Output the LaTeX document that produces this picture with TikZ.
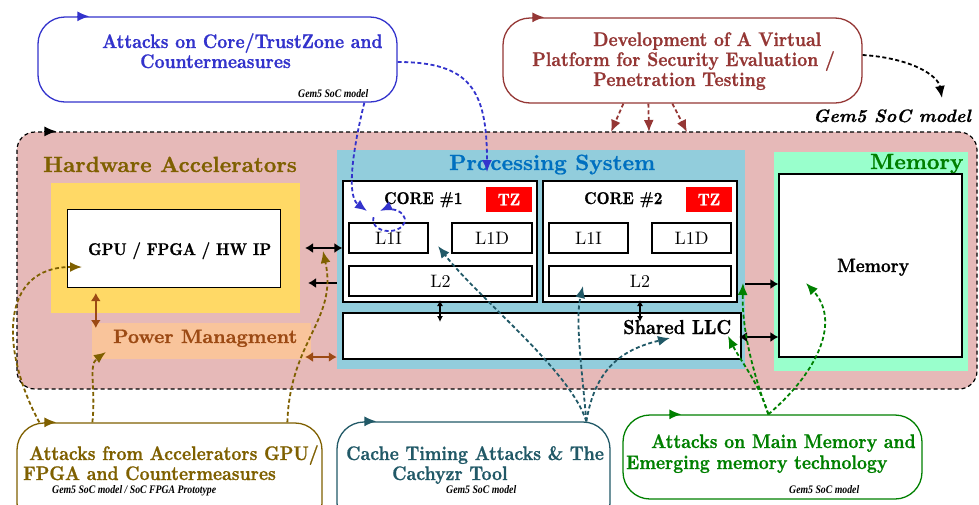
\documentclass[tikz,border=0pt]{standalone}
\usepackage{fontspec}
\usetikzlibrary{arrows.meta,fit}

% label fonts
\newfontfamily\tagfamily{Liberation Serif}
\newfontfamily\hv{lmroman10-bold}[Extension=.otf, FakeStretch=0.88, FakeBold=0.8]
\newfontfamily\hvwide{lmroman10-bold}[Extension=.otf, FakeBold=0.8]
\newfontfamily\hvit{lmroman10-bolditalic}[Extension=.otf, FakeBold=0.6]
\newfontfamily\lmreg{lmroman10-regular}[Extension=.otf]

\definecolor{cBlue}{HTML}{3333CC}
\definecolor{cRed}{HTML}{953735}
\definecolor{cOlive}{HTML}{7F6000}
\definecolor{cTeal}{HTML}{215967}
\definecolor{cGreen}{HTML}{008000}
\definecolor{cPink}{HTML}{E6B9B8}
\definecolor{cYellow}{HTML}{FFD966}
\definecolor{cSky}{HTML}{92CDDC}
\definecolor{cPeach}{HTML}{F9C49B}
\definecolor{cMint}{HTML}{99FFCC}
\definecolor{cRust}{HTML}{9C4A14}
\definecolor{cPSBlue}{HTML}{0070C0}

\begin{document}
\begin{tikzpicture}[x=1pt,y=1pt,
  region/.style={inner sep=0pt, draw=none},
  cell/.style={draw=black, line width=1.1pt, fill=white, inner sep=0pt},
  attack/.style={draw, line width=1.3pt, fill=white, rounded corners=27pt, inner sep=0pt},
  head/.style={font=\fontsize{19.7}{20}\hv, anchor=base west, inner sep=0pt},
  tag/.style={font=\fontsize{11.5}{12}\selectfont\tagfamily\bfseries\itshape\addfontfeature{FakeStretch=0.85}, anchor=base west, inner sep=0pt},
  blocktitle/.style={font=\fontsize{22}{26}\hvwide, anchor=base west, inner sep=0pt},
  celltext/.style={font=\fontsize{18}{20}\lmreg, inner sep=0pt},
  boldtext/.style={font=\fontsize{17}{18}\hv, anchor=base west, inner sep=0pt},
  link/.style={line width=1.8pt, dash pattern=on 4pt off 2.6pt, -{Latex[length=12pt,width=10pt]}},
  bus/.style={line width=2.6pt, {Latex[length=8pt,width=10pt]}-{Latex[length=8pt,width=10pt]}},
  onearrow/.style={line width=2.6pt, -{Latex[length=8pt,width=10pt]}},
  thinbus/.style={line width=1.2pt, {Latex[length=6pt,width=6pt]}-{Latex[length=6pt,width=6pt]}},
  entry/.style={line width=1.3pt, -{Latex[length=12pt,width=10pt]}}
]
\useasboundingbox (0,0) rectangle (979,-504);
\clip (0,0) rectangle (979,-504);

% ---------- SoC platform ----------
\node (soc) [fit={(17,-132) (977,-389)}, inner sep=0pt, draw=black, line width=1.2pt,
  dash pattern=on 4pt off 3pt, fill=cPink, rounded corners=18pt] {};
\draw[entry] ([xshift=28pt]soc.north west) -- ++(12pt,0);

% Hardware accelerators
\node (hwtitle) [blocktitle, text=cOlive] at (43,-172) {Hardware Accelerators};
\node (hwbg) [region, fill=cYellow, fit={(51,-183) (300,-313)}] {};
\node (gpu) [cell, line width=0.9pt, fit={(67,-209) (280,-287)}] {};
\node (gputext) [boldtext] at (88,-255) {GPU / FPGA / HW IP};
\node (power) [region, fill=cPeach, fit={(92,-323) (311,-359)}] {};
\node (powertext) [font=\fontsize{19.5}{22}\hvwide, anchor=base west, inner sep=0pt, text=cRust] at (113,-343) {Power Managment};

% Processing system
\node (ps) [region, fill=cSky, fit={(337,-150) (745,-369)}] {};
\node (pstitle) [blocktitle, text=cPSBlue] at (449,-170) {Processing System};

\node (core1) [cell, fit={(343,-181) (537,-302)}] {};
\node (core1text) [boldtext] at (384,-204) {CORE \#1};
\node (tz1) [region, fill=red, fit={(486,-187) (532,-212)}] {};
\node [boldtext, anchor=center, text=white] at (tz1) {TZ};
\node (l1i1) [cell, fit={(349,-223) (428,-253)}] {};
\node [celltext] at (l1i1) {L1I};
\node (l1d1) [cell, fit={(452,-223) (532,-253)}] {};
\node [celltext] at (l1d1) {L1D};
\node (l21) [cell, fit={(349,-266) (532,-296)}] {};
\node [celltext] at (l21) {L2};

\node (core2) [cell, fit={(543,-181) (737,-302)}] {};
\node (core2text) [boldtext] at (584,-204) {CORE \#2};
\node (tz2) [region, fill=red, fit={(686,-187) (732,-212)}] {};
\node [boldtext, anchor=center, text=white] at (tz2) {TZ};
\node (l1i2) [cell, fit={(549,-223) (628,-253)}] {};
\node [celltext] at (l1i2) {L1I};
\node (l1d2) [cell, fit={(652,-223) (731,-253)}] {};
\node [celltext] at (l1d2) {L1D};
\node (l22) [cell, fit={(549,-266) (731,-296)}] {};
\node [celltext] at (l22) {L2};

\node (llc) [cell, fit={(343,-313) (741,-359)}] {};
\node (llctext) [font=\fontsize{20.2}{22}\hv, anchor=base west, inner sep=0pt] at (623,-334) {Shared LLC};

% Memory
\node (membg) [region, fill=cMint, fit={(774,-152) (968,-371)}] {};
\node (memtitle) [blocktitle, text=cGreen] at (870,-169) {Memory};
\node (mem) [cell, fit={(779,-174) (962,-357)}] {};
\node (memtext) [font=\fontsize{19.3}{22}\hv, anchor=base west, inner sep=0pt] at (837,-272) {Memory};

% on-chip links
\coordinate (gpuR) at (305,-248);
\coordinate (gpuR2) at (308,-283);
\coordinate (pmR) at (305,-357);
\draw[bus] (gpuR) -- (gpuR -| core1.west);
\draw[onearrow] (gpuR2 -| ps.west) -- (gpuR2);
\draw[bus, cRust] (pmR) -- (pmR -| ps.west);
\draw[bus, cRust] ([xshift=45pt]hwbg.south west |- 0,-293) -- ([xshift=45pt]hwbg.south west |- 0,-328);
\draw[thinbus] (440,-300) -- (440,-322);
\draw[thinbus] (640,-300) -- (640,-322);
\draw[onearrow] (745,-284) -- (mem.west |- 0,-284);
\draw[bus] (739,-337) -- (mem.west |- 0,-337);

% ---------- research topics ----------
\node (coreatk) [attack, draw=cBlue, fit={(38,-17) (397,-102)}] {};
\draw[entry, cBlue] ([xshift=40pt]coreatk.north west) -- ++(12pt,0);
\node [head, text=cBlue] at (102,-48) {Attacks on Core/TrustZone and};
\node [head, text=cBlue] at (140,-68) {Countermeasures};
\node [tag] at (298,-97) {Gem5 SoC model};

\node (vp) [attack, draw=cRed, fit={(503,-18) (862,-103)}] {};
\draw[entry, cRed] ([xshift=30pt]vp.north west) -- ++(12pt,0);
\node [head, text=cRed] at (593,-46) {Development of A Virtual};
\node [head, text=cRed] at (532,-66) {Platform for Security Evaluation /};
\node [head, text=cRed] at (593,-86) {Penetration Testing};
\node (gemtitle) [font=\fontsize{18}{20}\hvit, anchor=base west, inner sep=0pt] at (813,-122) {Gem5 SoC model};

\node (accatk) [attack, draw=cOlive, fit={(17,-423) (322,-530)}] {};
\draw[entry, cOlive] ([xshift=28pt]accatk.north west) -- ++(12pt,0);
\node [head, text=cOlive] at (29,-460) {Attacks from Accelerators GPU/};
\node [head, text=cOlive] at (23,-480) {FPGA and Countermeasures};
\node [tag] at (52,-493) {Gem5 SoC model / SoC FPGA Prototype};

\node (cacheatk) [attack, draw=cTeal, fit={(337,-422) (610,-530)}] {};
\draw[entry, cTeal] ([xshift=28pt]cacheatk.north west) -- ++(12pt,0);
\node [head, text=cTeal] at (346,-460) {Cache Timing Attacks \& The};
\node [head, text=cTeal] at (392,-480) {Cachyzr Tool};
\node [tag] at (446,-493) {Gem5 SoC model};

\node (mematk) [attack, draw=cGreen, fit={(623,-415) (922,-499)}] {};
\draw[entry, cGreen] ([xshift=47pt]mematk.north west) -- ++(12pt,0);
\node [head, text=cGreen] at (651,-448) {Attacks on Main Memory and};
\node [head, text=cGreen] at (626,-469) {Emerging memory technology};
\node [tag] at (789,-493) {Gem5 SoC model};

% ---------- attack paths ----------
\coordinate (coreTgt) at (367,-211);
\coordinate (psTgt) at (487,-172);
\draw[link, cBlue] ([xshift=327pt]coreatk.south west) .. controls (355,-140) and (345,-195) .. (coreTgt);
\draw[link, cBlue] (coreatk.east |- 0,-62) .. controls (470,-62) and (487,-90) .. (psTgt);
\draw[link, cBlue] (373.5,-217.2) arc[start angle=165, end angle=484, x radius=16pt, y radius=11pt];

\draw[link, cRed] ([xshift=121pt]vp.south west) -- (611,-132);
\draw[link, cRed] ([xshift=146pt]vp.south west) -- (649,-132);
\draw[link, cRed] ([xshift=170pt]vp.south west) -- (687,-132);
\draw[link, black] (vp.east |- 0,-55) .. controls (910,-58) and (938,-75) .. (942,-98);

\coordinate (gpuTgt) at (82,-267);
\coordinate (pmTgt) at (106,-352);
\coordinate (hwTgt) at (323,-251);
\draw[link, cOlive] ([xshift=23pt]accatk.north west) .. controls (0,-350) and (0,-267) .. (gpuTgt);
\draw[link, cOlive] ([xshift=76pt]accatk.north west) .. controls (96,-390) and (88,-365) .. (pmTgt);
\draw[link, cOlive] ([xshift=271pt]accatk.north west) .. controls (290,-340) and (338,-320) .. (hwTgt);

\coordinate (cacheSrc) at ([xshift=250pt]cacheatk.north west);
\draw[link, cTeal] (cacheSrc) .. controls (570,-370) and (480,-300) .. (438,-246);
\draw[link, cTeal] (cacheSrc) .. controls (582,-370) and (575,-320) .. (583,-286);
\draw[link, cTeal] (cacheSrc) .. controls (595,-370) and (620,-350) .. (670,-338);

\coordinate (memSrc) at ([xshift=146pt]mematk.north west);
\draw[link, cGreen] (memSrc) .. controls (760,-385) and (740,-360) .. (728,-336);
\draw[link, cGreen] (memSrc) .. controls (748,-360) and (742,-320) .. (743,-283);
\draw[link, cGreen] (memSrc) .. controls (820,-370) and (840,-320) .. (806,-283);
\end{tikzpicture}
\end{document}
